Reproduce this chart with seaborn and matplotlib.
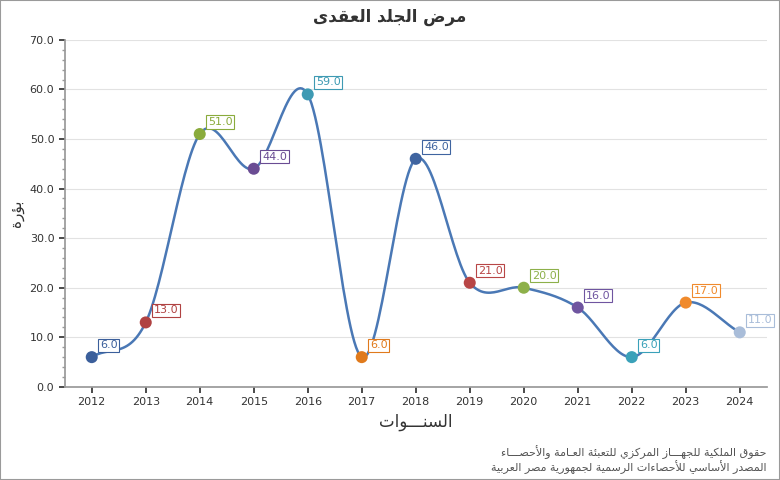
import numpy as np
import pandas as pd
import matplotlib
matplotlib.use("Agg")
import matplotlib.pyplot as plt
import seaborn as sns

# ---------------- data ----------------
YEARS = [2012, 2013, 2014, 2015, 2016, 2017, 2018, 2019, 2020, 2021, 2022, 2023, 2024]
VALUES = [6, 13, 51, 44, 59, 6, 46, 21, 20, 16, 6, 17, 11]
POINT_COLORS = ["#3b5f9b", "#b04242", "#8aab3c", "#6a4c93", "#3e9ab3", "#e07a1c",
                "#3f64a0", "#b84646", "#8db04a", "#6f55a0", "#3aa1b9", "#f08a2c", "#a9bdd9"]
TITLE = "مرض الجلد العقدى"
Y_LABEL = "بؤرة"
X_LABEL = "السنـــوات"
FOOTER = ["حقوق الملكية للجهـــاز المركزي للتعبئة العـامة والأحصـــاء",
          "المصدر الأساسي للأحصاءات الرسمية لجمهورية مصر العربية"]

# ---------------- minimal arabic shaping ----------------
FORMS = {"ء": (0xFE80, 1), "آ": (0xFE81, 2), "أ": (0xFE83, 2), "ؤ": (0xFE85, 2), "إ": (0xFE87, 2),
         "ئ": (0xFE89, 4), "ا": (0xFE8D, 2), "ب": (0xFE8F, 4), "ة": (0xFE93, 2), "ت": (0xFE95, 4),
         "ث": (0xFE99, 4), "ج": (0xFE9D, 4), "ح": (0xFEA1, 4), "خ": (0xFEA5, 4), "د": (0xFEA9, 2),
         "ذ": (0xFEAB, 2), "ر": (0xFEAD, 2), "ز": (0xFEAF, 2), "س": (0xFEB1, 4), "ش": (0xFEB5, 4),
         "ص": (0xFEB9, 4), "ض": (0xFEBD, 4), "ط": (0xFEC1, 4), "ظ": (0xFEC5, 4), "ع": (0xFEC9, 4),
         "غ": (0xFECD, 4), "ف": (0xFED1, 4), "ق": (0xFED5, 4), "ك": (0xFED9, 4), "ل": (0xFEDD, 4),
         "م": (0xFEE1, 4), "ن": (0xFEE5, 4), "ه": (0xFEE9, 4), "و": (0xFEED, 2), "ى": (0xFEEF, 2),
         "ي": (0xFEF1, 4)}
LAM_ALEF = {"ا": 0xFEFB, "أ": 0xFEF7, "إ": 0xFEF9, "آ": 0xFEF5}


def joins_next(c):
    return c == "ـ" or (c in FORMS and FORMS[c][1] == 4)


def joins_prev(c):
    return c == "ـ" or (c in FORMS and FORMS[c][1] >= 2)


def shape(text):
    chars = list(text)
    out = []
    i = 0
    while i < len(chars):
        c = chars[i]
        prev = chars[i - 1] if i > 0 else ""
        connect_prev = joins_next(prev) and joins_prev(c)
        if c == "ل" and i + 1 < len(chars) and chars[i + 1] in LAM_ALEF:
            out.append(chr(LAM_ALEF[chars[i + 1]] + (1 if connect_prev else 0)))
            i += 2
            continue
        if c not in FORMS:
            out.append(c)
            i += 1
            continue
        base, n = FORMS[c]
        nxt = chars[i + 1] if i + 1 < len(chars) else ""
        connect_next = n == 4 and joins_prev(nxt)
        if n == 1:
            code = base
        elif connect_prev and connect_next:
            code = base + 3
        elif connect_next:
            code = base + 2
        elif connect_prev:
            code = base + 1
        else:
            code = base
        out.append(chr(code))
        i += 1
    return "".join(out)[::-1]


def catmull(x, y, steps=30):
    x = np.asarray(x, float)
    y = np.asarray(y, float)
    px = np.concatenate([[2 * x[0] - x[1]], x, [2 * x[-1] - x[-2]]])
    py = np.concatenate([[2 * y[0] - y[1]], y, [2 * y[-1] - y[-2]]])
    xs, ys = [], []
    t = np.linspace(0, 1, steps)
    for k in range(1, len(px) - 2):
        for arr, res in ((px, xs), (py, ys)):
            p0, p1, p2, p3 = arr[k - 1:k + 3]
            res.extend(0.5 * (2 * p1 + (-p0 + p2) * t + (2 * p0 - 5 * p1 + 4 * p2 - p3) * t ** 2
                              + (-p0 + 3 * p1 - 3 * p2 + p3) * t ** 3))
    return xs, ys


df = pd.DataFrame({"year": YEARS, "value": VALUES})

sns.set_theme(style="white", font="DejaVu Sans")
fig = plt.figure(figsize=(7.8, 4.8), dpi=100)
fig.patches.append(plt.Rectangle((0, 0), 1, 1, transform=fig.transFigure, fill=False,
                                 edgecolor="#9a9a9a", linewidth=1.5))
ax = fig.add_axes([0.083, 0.194, 0.9, 0.723])

sx, sy = catmull(df["year"], df["value"])
ax.plot(sx, sy, color="#4a78b5", linewidth=1.8, zorder=2)
sns.scatterplot(data=df, x="year", y="value", hue="year", palette=POINT_COLORS,
                s=75, edgecolor="none", legend=False, ax=ax, zorder=3)

for yr, v, col in zip(YEARS, VALUES, POINT_COLORS):
    ax.annotate(f"{v:.1f}", (yr, v), xytext=(6, 5), textcoords="offset points",
                fontsize=8, color=col, ha="left", va="bottom",
                bbox=dict(boxstyle="square,pad=0.15", fc="white", ec=col, lw=0.8))

ax.set_xlim(2011.5, 2024.5)
ax.set_ylim(0, 70)
ax.set_xticks(YEARS)
ax.set_yticks(np.arange(0, 71, 10))
ax.set_yticklabels([f"{t:.1f}" for t in np.arange(0, 71, 10)])
ax.set_yticks(np.arange(0, 71, 2), minor=True)
ax.tick_params(axis="both", labelsize=8, colors="#333333", length=4, direction="out")
ax.tick_params(axis="y", which="minor", length=2, color="#999999")
ax.tick_params(bottom=True, left=True, which="both")
ax.grid(axis="y", color="#e2e2e2", linewidth=0.8)
for s in ax.spines.values():
    s.set_color("#999999")
ax.spines["top"].set_visible(False)
ax.spines["right"].set_visible(False)

ax.set_xlabel(shape(X_LABEL), fontsize=12, color="#333333")
ax.set_ylabel(shape(Y_LABEL), fontsize=11, color="#333333")
fig.text(0.5, 0.965, shape(TITLE), ha="center", va="center", fontsize=12,
         fontweight="bold", color="#333333")
fig.text(0.983, 0.058, shape(FOOTER[0]), ha="right", va="center", fontsize=8, color="#555555")
fig.text(0.983, 0.027, shape(FOOTER[1]), ha="right", va="center", fontsize=8, color="#555555")

fig.savefig("out.png", dpi=100)
